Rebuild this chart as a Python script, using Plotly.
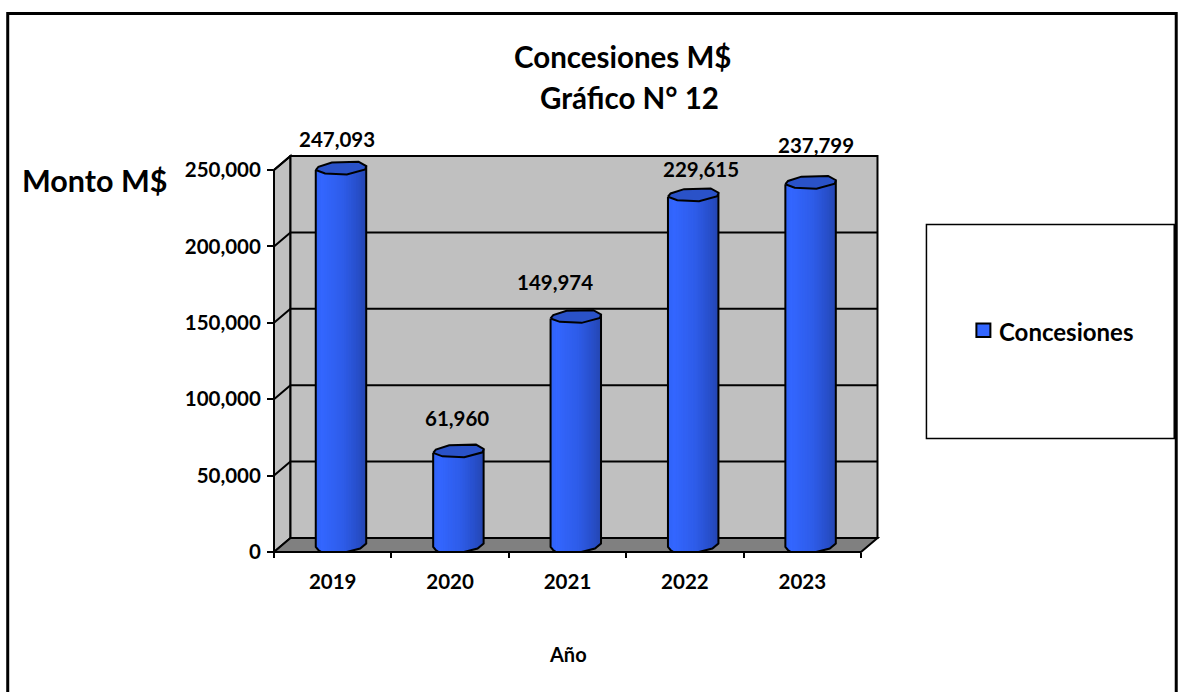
import numpy as np
import plotly.graph_objects as go

# ---- data ----
years = [2019, 2020, 2021, 2022, 2023]
values = [247093, 61960, 149974, 229615, 237799]
y_ticks = [0, 50000, 100000, 150000, 200000, 250000]
series_name = "Concesiones"
title_lines = ["Concesiones M$", "Gráfico N° 12"]
y_title = "Monto M$"
x_title = "Año"

# manual offsets of the data labels (pixels)
label_dx = [4, 7, -13, 16, 14]
label_dy = [35, 39, 41, 32, 44]

# ---- geometry ----
W, H = 1179, 692
L, R, T, B = 274.0, 861.5, 170.0, 552.0   # T = pixel of the 250,000 tick
PLOT_T = 150.0                            # room above the last tick for cylinder tops
DX, DY = 16.5, 14.0
UNIT_X = (R - L) / len(years)
UNIT_Y = (B - T) / 250000.0
BAR_W = 50.5 / UNIT_X
BAR_SHIFT = 8.3 / UNIT_X
FONT = "Lato"
BLUE_STOPS_F = [0.0, 0.12, 0.55, 0.8, 1.0]
BLUE_STOPS_RGB = [(48, 98, 245), (51, 102, 255), (46, 92, 232), (40, 80, 205), (36, 70, 178)]
TOP_F = [0.0, 0.053, 0.318, 0.848, 1.0, 0.98, 0.616, 0.185, 0.0]
TOP_R = [4.4, 7.7, 12.0, 12.7, 8.4, 5.0, 0.0, 1.0, 4.4]
BOT_F = [0.0, 0.05, 0.11, 0.61, 0.88, 1.0]
BOT_R = [5.0, 2.0, 0.0, 0.0, 3.5, 8.5]


def px(xpix):
    return (xpix - L) / (R - L)


def py(ypix):
    return (B - ypix) / (B - PLOT_T)


shapes = []


def poly(pts, fill=None, width=2):
    d = "M " + " L ".join(f"{px(a):.5f},{py(b):.5f}" for a, b in pts)
    if fill:
        d += " Z"
    shapes.append(dict(type="path", xref="paper", yref="paper", path=d, layer="below",
                       fillcolor=fill or "rgba(0,0,0,0)",
                       line=dict(color="black", width=width)))


grid_pix = [B - t * UNIT_Y for t in y_ticks]
poly([(L, B), (L + DX, B - DY), (L + DX, T - DY), (L, T)], "#C0C0C0")
poly([(L + DX, B - DY), (R + DX, B - DY), (R + DX, T - DY), (L + DX, T - DY)], "#C0C0C0")
poly([(L, B), (R, B), (R + DX, B - DY), (L + DX, B - DY)], "#808080")
for g in grid_pix[1:]:
    poly([(L, g), (L + DX, g - DY), (R + DX, g - DY)])
poly([(L, B), (L, T)])

fig = go.Figure()

N = 30
for k in range(N):
    f0 = k / N
    f1 = min((k + 1.6) / N, 1.0)
    fm = (k + 0.5) / N
    c = [int(round(np.interp(fm, BLUE_STOPS_F, [s[j] for s in BLUE_STOPS_RGB]))) for j in range(3)]
    rise = float(np.interp(fm, BOT_F, BOT_R)) / UNIT_Y
    up = 5.0 / UNIT_Y
    fig.add_trace(go.Bar(
        x=years, y=[v + up - rise for v in values], base=[rise] * len(values),
        offset=BAR_SHIFT - BAR_W / 2 + f0 * BAR_W, width=(f1 - f0) * BAR_W,
        marker=dict(color=f"rgb({c[0]},{c[1]},{c[2]})", line=dict(width=0)),
        showlegend=False, hoverinfo="skip", cliponaxis=False))

# cylinder silhouettes and tops
for yr, v in zip(years, values):
    x0 = yr + BAR_SHIFT - BAR_W / 2
    sx = [x0] + [x0 + f * BAR_W for f in BOT_F] + [x0 + BAR_W]
    sy = [v + TOP_R[0] / UNIT_Y] + [r / UNIT_Y for r in BOT_R] + [v + TOP_R[4] / UNIT_Y]
    fig.add_trace(go.Scatter(x=sx, y=sy, mode="lines", line=dict(color="black", width=2),
                             showlegend=False, hoverinfo="skip", cliponaxis=False))
    fig.add_trace(go.Scatter(x=[x0 + f * BAR_W for f in TOP_F],
                             y=[v + r / UNIT_Y for r in TOP_R],
                             mode="lines", fill="toself", fillcolor="#2A52C8",
                             line=dict(color="black", width=2),
                             showlegend=False, hoverinfo="skip", cliponaxis=False))

annotations = []
for yr, v, dx, dy in zip(years, values, label_dx, label_dy):
    annotations.append(dict(x=yr, y=v, xref="x", yref="y", text=f"{v:,}", showarrow=False,
                            xshift=dx, yshift=dy, xanchor="center", yanchor="middle",
                            font=dict(family=FONT, size=20.5, color="black", weight=700)))


def free_text(t, xp, yp, size, anchor="center"):
    annotations.append(dict(x=px(xp), y=py(yp), xref="paper", yref="paper", text=t,
                            showarrow=False, xanchor=anchor, yanchor="middle",
                            font=dict(family=FONT, size=size, color="black", weight=700)))


free_text(title_lines[0], 623, 56.5, 29.5)
free_text(title_lines[1], 630, 98, 29.5)
free_text(y_title, 95, 179.5, 30.5)
free_text(x_title, 568, 653.5, 20)
free_text(series_name, 997.5, 331.5, 24, "left")

# outer frame and legend box
for (a, b, c, d, w) in [(7.5, 13.5, 1177, 720, 3), (927, 224.5, 1175, 438.5, 1.5)]:
    shapes.append(dict(type="rect", xref="paper", yref="paper", layer="below",
                       x0=px(a), x1=px(c), y0=py(d), y1=py(b),
                       line=dict(color="black", width=w), fillcolor="rgba(0,0,0,0)"))
# legend key
shapes.append(dict(type="rect", xref="paper", yref="paper", layer="below",
                   x0=px(977), x1=px(991), y0=py(337), y1=py(323.5),
                   line=dict(color="black", width=2), fillcolor="#3366FF"))

fig.update_layout(
    width=W, height=H, autosize=False,
    margin=dict(l=L, r=W - R, t=PLOT_T, b=H - B, pad=0),
    paper_bgcolor="white", plot_bgcolor="rgba(0,0,0,0)",
    barmode="overlay", shapes=shapes, annotations=annotations,
    showlegend=False,
    xaxis=dict(range=[years[0] - 0.5, years[-1] + 0.5], tickmode="array", tickvals=years,
               ticktext=[str(y) for y in years], ticks="", showgrid=False, zeroline=False,
               showline=False, ticklabelstandoff=15,
               tickfont=dict(family=FONT, size=20.5, color="black", weight=700),
               minor=dict(tickmode="array",
                          tickvals=[years[0] - 0.5 + i for i in range(len(years) + 1)],
                          ticks="outside", ticklen=5, tickwidth=2, tickcolor="black",
                          showgrid=False)),
    yaxis=dict(range=[0, (B - PLOT_T) / UNIT_Y], tickmode="array", tickvals=y_ticks,
               ticktext=[f"{t:,}" for t in y_ticks], ticks="outside", ticklen=6, tickwidth=2,
               tickcolor="black", showgrid=False, zeroline=False, showline=False,
               ticklabelstandoff=2,
               tickfont=dict(family=FONT, size=20.5, color="black", weight=700)),
)

fig.write_html("out.html", config={"displayModeBar": False},
               post_script="document.body.style.margin='0';document.documentElement.style.overflow='hidden';")
